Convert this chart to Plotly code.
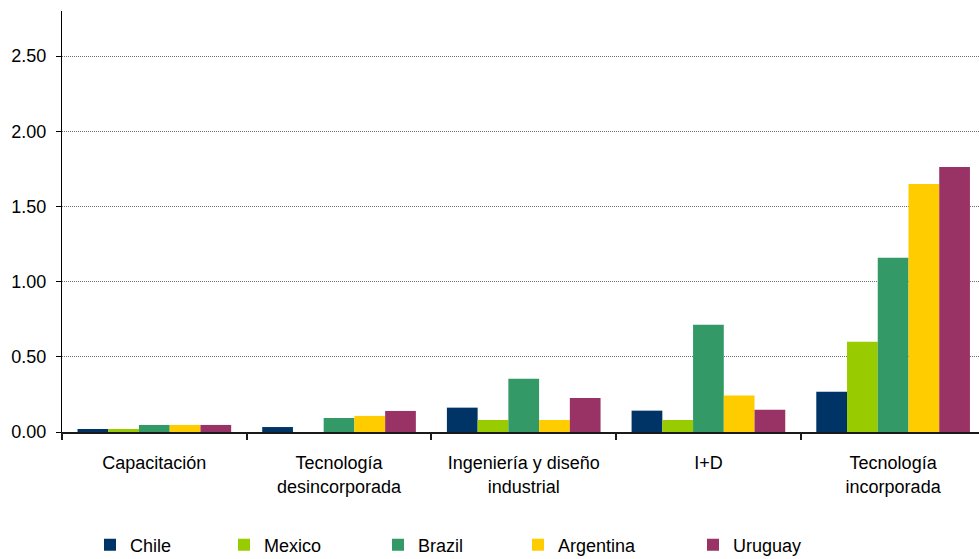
import plotly.graph_objects as go

categories = ["Capacitación", "Tecnología<br>desincorporada", "Ingeniería y diseño<br>industrial", "I+D", "Tecnología<br>incorporada"]
countries = ["Chile", "Mexico", "Brazil", "Argentina", "Uruguay"]
chile = [0.02, 0.033, 0.162, 0.142, 0.268]
mexico = [0.02, 0.0, 0.08, 0.08, 0.60]
brazil = [0.047, 0.093, 0.354, 0.714, 1.159]
argentina = [0.047, 0.107, 0.08, 0.242, 1.65]
uruguay = [0.047, 0.14, 0.226, 0.148, 1.763]
colors = ["#003366", "#99CC00", "#339966", "#FFCC00", "#993366"]
legend_px = [114, 248, 402, 542, 717]  # symbol centers (pixels) for each legend entry

series = [chile, mexico, brazil, argentina, uruguay]
W, H = 979, 559
FONT = "Arial, Liberation Sans, sans-serif"

fig = go.Figure()
legend_names = ["legend", "legend2", "legend3", "legend4", "legend5"]
for name, vals, col, lg in zip(countries, series, colors, legend_names):
    fig.add_trace(go.Bar(x=categories, y=vals, name=name, marker_color=col,
                         marker_line_width=0, legend=lg))

layout_legends = {}
for lg, px in zip(legend_names, legend_px):
    layout_legends[lg] = dict(
        x=(px - 24) / W, xref="container", xanchor="left",
        y=1 - 545 / H, yref="container", yanchor="middle",
        orientation="h", bgcolor="rgba(0,0,0,0)",
        font=dict(family=FONT, size=18, color="#000"),
    )

fig.update_layout(
    width=W, height=H,
    margin=dict(l=62, r=0, t=11, b=127, autoexpand=False),
    paper_bgcolor="white", plot_bgcolor="white",
    barmode="group", bargap=0.168, bargroupgap=0,
    font=dict(family=FONT, size=18, color="#000"),
    showlegend=True,
    **layout_legends,
)
fig.update_xaxes(
    type="category", range=[-0.5, 4.465],
    showline=True, linecolor="#1a1a1a", linewidth=1.5,
    ticks="outside", tickson="boundaries", ticklen=6, tickcolor="#1a1a1a", tickwidth=1.5,
    showgrid=False, tickfont=dict(family=FONT, size=18, color="#000"),
    ticklabelstandoff=14, automargin=False,
)
fig.update_yaxes(
    range=[0, 2.8], dtick=0.5, tick0=0, tickformat=".2f",
    showline=True, linecolor="#000", linewidth=1,
    ticks="outside", ticklen=5, tickcolor="#000",
    showgrid=True, gridcolor="#6e6e6e", gridwidth=1, griddash="1px,1px",
    zeroline=False, tickfont=dict(family=FONT, size=18, color="#000"),
    ticklabelstandoff=6, automargin=False,
)

fig.write_html("out.html", config={"displayModeBar": False},
               post_script="document.body.style.margin='0';")
